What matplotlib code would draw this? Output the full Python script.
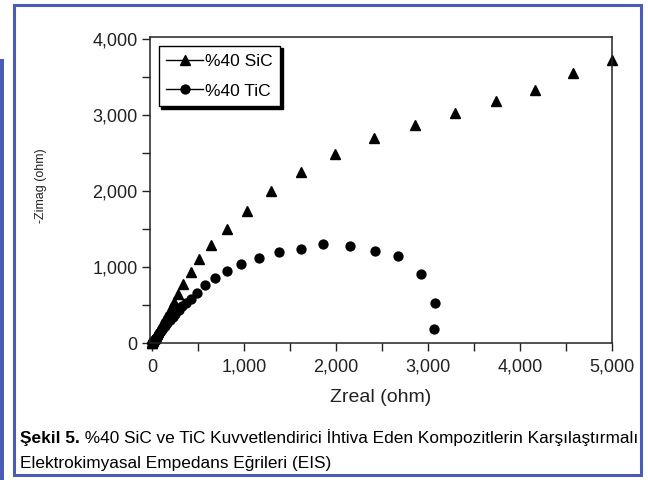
import numpy as np
import matplotlib
matplotlib.use("Agg")
import matplotlib.pyplot as plt
from matplotlib.patches import Rectangle
from matplotlib.ticker import MultipleLocator, FuncFormatter

plt.rcParams['font.family'] = ['Liberation Sans', 'DejaVu Sans']

# EIS data (ohm)
sic_zreal = [1, 3, 7, 12, 18, 25, 33, 43, 54, 67, 81, 97, 115, 135, 157, 182, 210,
             242, 279, 340, 429, 514, 641, 815, 1033, 1293, 1620, 1989, 2416,
             2859, 3297, 3736, 4163, 4573, 5000]
sic_zimag = [2, 6, 15, 25, 38, 53, 71, 93, 118, 146, 178, 213, 253, 297, 347, 405, 470,
             543, 654, 786, 934, 1114, 1289, 1509, 1737, 2000, 2250, 2487, 2707,
             2878, 3036, 3188, 3338, 3557, 3733]

tic_zreal = [1, 4, 8, 14, 21, 30, 40, 52, 66, 82, 100, 120, 143, 168, 195, 225, 257,
             292, 330, 370, 424, 486, 579, 688, 815, 967, 1166, 1384, 1620, 1855,
             2155, 2424, 2671, 2924, 3079, 3062]
tic_zimag = [2, 6, 14, 24, 36, 51, 69, 89, 112, 137, 165, 196, 230, 266, 305, 347, 390,
             437, 485, 535, 588, 662, 763, 864, 951, 1049, 1128, 1201, 1237, 1312,
             1276, 1214, 1145, 917, 530, 193]

labels = ['%40 SiC', '%40 TiC']
caption_bold = 'Şekil 5.'
caption_rest = ' %40 SiC ve TiC Kuvvetlendirici İhtiva Eden Kompozitlerin Karşılaştırmalı'
caption_line2 = 'Elektrokimyasal Empedans Eğrileri (EIS)'

W, H = 648, 480
fig = plt.figure(figsize=(6.48, 4.8), dpi=100)
ax = fig.add_axes([150 / W, 1 - 343.3 / H, 462 / W, 306.3 / H])

ax.plot(sic_zreal, sic_zimag, linestyle='none', marker='^', markersize=7.8,
        color='black', clip_on=False, label=labels[0])
ax.plot(tic_zreal, tic_zimag, linestyle='none', marker='o', markersize=6.4,
        color='black', clip_on=False, label=labels[1])

ax.set_xlim(-20, 5000)
ax.set_ylim(0, 4030)
ax.xaxis.set_major_locator(MultipleLocator(1000))
ax.xaxis.set_minor_locator(MultipleLocator(500))
ax.yaxis.set_major_locator(MultipleLocator(1000))
ax.yaxis.set_minor_locator(MultipleLocator(500))
fmt = FuncFormatter(lambda v, p: f'{int(v):,}')
ax.xaxis.set_major_formatter(fmt)
ax.yaxis.set_major_formatter(fmt)
ax.tick_params(which='both', direction='out', length=6, width=1, color='#222222',
               top=False, right=False)
ax.tick_params(axis='both', labelsize=13, labelcolor='#222222')
ax.tick_params(axis='x', pad=5)
ax.tick_params(axis='y', pad=3)
for s in ax.spines.values():
    s.set_linewidth(1.1)
    s.set_color('#222222')

leg = ax.legend(loc='upper left', bbox_to_anchor=(0.0, 1.0), fontsize=12.5,
                handlelength=2.1, handletextpad=0.1, labelspacing=0.85,
                borderaxespad=0.5, borderpad=0.45,
                fancybox=False, edgecolor='black', framealpha=1,
                shadow={'color': 'black', 'alpha': 1})
leg.get_frame().set_linewidth(1.0)
# legend handles drawn as line with marker
for h in leg.legend_handles:
    h.set_linestyle('-')
    h.set_linewidth(1.0)

fig.text(381 / W, 1 - 397 / H, 'Zreal (ohm)', ha='center', va='center',
         fontsize=14, color='#222222')
fig.text(41 / W, 1 - 186 / H, '-Zimag (ohm)', ha='center', va='center',
         rotation=90, fontsize=9, color='#222222')

# caption
t1 = fig.text(20 / W, 1 - 443 / H, caption_bold, fontsize=12.4, fontweight='bold',
              va='baseline', ha='left')
fig.canvas.draw()
x1 = t1.get_window_extent().x1 / W
fig.text(x1, 1 - 443 / H, caption_rest, fontsize=12.4, va='baseline', ha='left')
fig.text(20 / W, 1 - 468 / H, caption_line2, fontsize=12.4, va='baseline', ha='left')

# blue frame
blue = '#4a5cb6'
fig.add_artist(Rectangle((13.5 / W, 5 / H), 627 / W, 470 / H, transform=fig.transFigure,
                         fill=False, edgecolor=blue, linewidth=2.2))
fig.add_artist(Rectangle((0, 0), 4 / W, (H - 59) / H, transform=fig.transFigure,
                         facecolor=blue, edgecolor='none'))

fig.savefig('out.png', dpi=100)
